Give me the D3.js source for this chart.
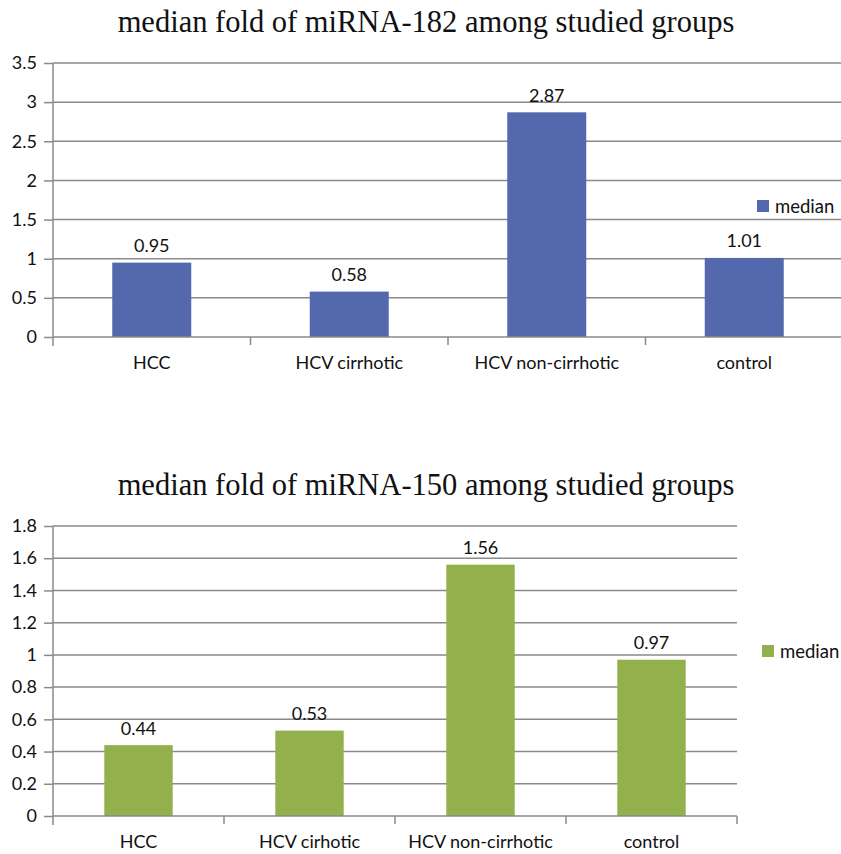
<!DOCTYPE html>
<html>
<head>
<meta charset="utf-8">
<script src="https://cdn.jsdelivr.net/npm/d3@7"></script>
<style>
  html, body { margin: 0; padding: 0; background: #fff; }
  svg { display: block; }
</style>
</head>
<body>
<svg id="chart" width="841" height="854"></svg>
<script>
// miRNA-182 panel
const groups182 = ["HCC", "HCV cirrhotic", "HCV non-cirrhotic", "control"];
const median182 = [0.95, 0.58, 2.87, 1.01];
const ticks182 = [0, 0.5, 1, 1.5, 2, 2.5, 3, 3.5];

// miRNA-150 panel
const groups150 = ["HCC", "HCV cirhotic", "HCV non-cirrhotic", "control"];
const median150 = [0.44, 0.53, 1.56, 0.97];
const ticks150 = [0, 0.2, 0.4, 0.6, 0.8, 1, 1.2, 1.4, 1.6, 1.8];

const svg = d3.select("#chart");
const labelFont = "Lato, 'Open Sans', sans-serif";
const labelSize = 18;
const gridColor = "#8a8a8a";

function panel(opts) {
  const { title, titleY, groups, values, ticks, yMax, top, bottom, left, right,
          color, legendX, legendY, fmt } = opts;

  const g = svg.append("g");

  g.append("text")
    .attr("x", 426).attr("y", titleY)
    .attr("text-anchor", "middle")
    .attr("font-family", "'Liberation Serif', 'Times New Roman', serif")
    .attr("font-size", 30.5)
    .attr("fill", "#111")
    .text(title);

  const x = d3.scaleBand().domain(groups).range([left, right]).paddingInner(0).paddingOuter(0);
  const y = d3.scaleLinear().domain([0, yMax]).range([bottom, top]);

  // horizontal gridlines
  g.append("g")
    .selectAll("line")
    .data(ticks.filter(t => t > 0))
    .join("line")
    .attr("x1", left).attr("x2", right)
    .attr("y1", d => y(d)).attr("y2", d => y(d))
    .attr("stroke", gridColor).attr("stroke-width", 1.5);

  // bars
  const bw = x.bandwidth() * 0.4;
  g.append("g")
    .selectAll("rect")
    .data(values)
    .join("rect")
    .attr("x", (d, i) => x(groups[i]) + (x.bandwidth() - bw) / 2)
    .attr("y", d => y(d))
    .attr("width", bw)
    .attr("height", d => y(0) - y(d))
    .attr("fill", color);

  // value labels
  g.append("g")
    .selectAll("text")
    .data(values)
    .join("text")
    .attr("x", (d, i) => x(groups[i]) + x.bandwidth() / 2)
    .attr("y", d => y(d) - 10.5)
    .attr("text-anchor", "middle")
    .attr("font-family", labelFont)
    .attr("font-size", labelSize)
    .attr("fill", "#111")
    .text(d => fmt(d));

  // y axis
  const yAxis = d3.axisLeft(y).tickValues(ticks).tickSize(9).tickPadding(7)
    .tickFormat(d => String(d));
  const ya = g.append("g").attr("transform", `translate(${left},0)`).call(yAxis);
  ya.select(".domain").remove();
  ya.selectAll(".tick line").attr("stroke", gridColor).attr("stroke-width", 1.5);
  ya.selectAll(".tick text")
    .attr("font-family", labelFont).attr("font-size", labelSize).attr("fill", "#111");
  g.append("line")
    .attr("x1", left).attr("x2", left)
    .attr("y1", top).attr("y2", bottom + 9)
    .attr("stroke", gridColor).attr("stroke-width", 1.5);

  // x axis
  g.append("line")
    .attr("x1", left).attr("x2", right)
    .attr("y1", bottom).attr("y2", bottom)
    .attr("stroke", gridColor).attr("stroke-width", 1.5);
  g.append("g")
    .selectAll("line")
    .data(groups.slice(1).concat(["__end"]))
    .join("line")
    .attr("x1", d => d === "__end" ? right : x(d))
    .attr("x2", d => d === "__end" ? right : x(d))
    .attr("y1", bottom).attr("y2", bottom + 8)
    .attr("stroke", gridColor).attr("stroke-width", 1.5);
  g.append("g")
    .selectAll("text")
    .data(groups)
    .join("text")
    .attr("x", d => x(d) + x.bandwidth() / 2)
    .attr("y", bottom + 31.5)
    .attr("text-anchor", "middle")
    .attr("font-family", labelFont)
    .attr("font-size", labelSize)
    .attr("fill", "#111")
    .text(d => d);

  // legend
  g.append("rect")
    .attr("x", legendX).attr("y", legendY - 6)
    .attr("width", 12).attr("height", 12)
    .attr("fill", color);
  g.append("text")
    .attr("x", legendX + 18).attr("y", legendY + 6.5)
    .attr("font-family", labelFont)
    .attr("font-size", 18.5)
    .attr("fill", "#111")
    .text("median");
}

panel({
  title: "median fold of miRNA-182 among studied groups",
  titleY: 32,
  groups: groups182, values: median182, ticks: ticks182, yMax: 3.5,
  top: 63, bottom: 337, left: 53, right: 843,
  color: "#5469ad", legendX: 757, legendY: 206,
  fmt: d3.format(".2f")
});

panel({
  title: "median fold of miRNA-150 among studied groups",
  titleY: 495,
  groups: groups150, values: median150, ticks: ticks150, yMax: 1.8,
  top: 526, bottom: 816, left: 53, right: 737,
  color: "#92b04b", legendX: 762, legendY: 651,
  fmt: d3.format(".2f")
});
</script>
</body>
</html>
